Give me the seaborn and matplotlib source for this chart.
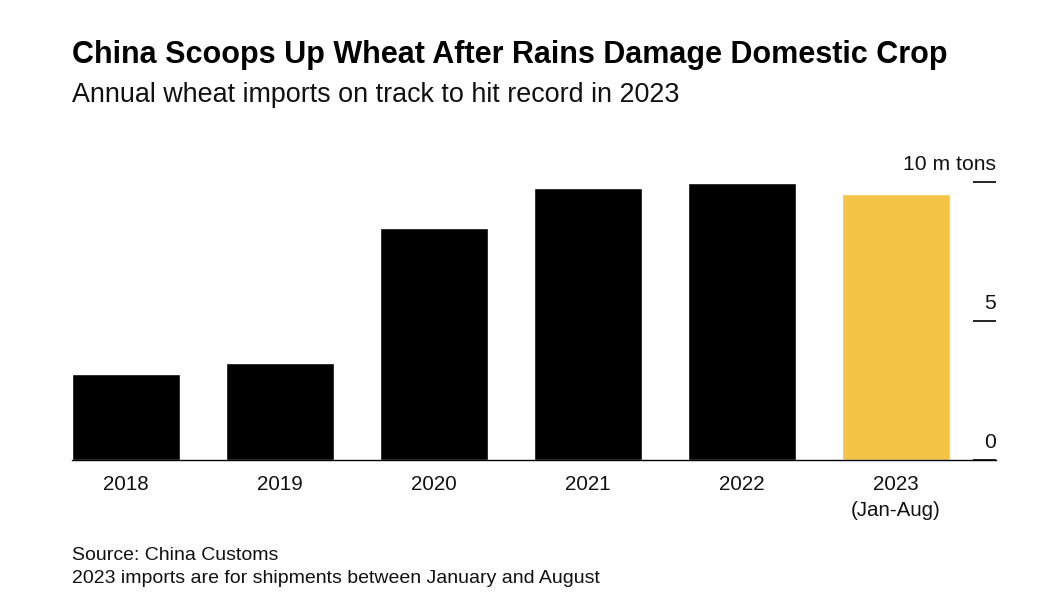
import pandas as pd
import matplotlib
import matplotlib.pyplot as plt
import matplotlib.transforms as mtransforms
import seaborn as sns

# 数据（百万吨）
years = ['2018', '2019', '2020', '2021', '2022', '2023\n(Jan-Aug)']
imports = [3.09, 3.48, 8.35, 9.78, 9.96, 9.57]
bar_colors = ['#000000', '#000000', '#000000', '#000000', '#000000', '#F5C445']
y_ticks = [0, 5, 10]
y_tick_labels = ['0', '5', '10 m tons']

title = 'China Scoops Up Wheat After Rains Damage Domestic Crop'
subtitle = 'Annual wheat imports on track to hit record in 2023'
source = 'Source: China Customs'
note = '2023 imports are for shipments between January and August'

sns.set_theme(style='white')
plt.rcParams['font.family'] = ['Liberation Sans', 'DejaVu Sans']

df = pd.DataFrame({'year': years, 'imports': imports})

fig = plt.figure(figsize=(10.6, 6.1), dpi=100)
ax = fig.add_axes([0.0679, 0.2459, 0.8717, 0.4557])

sns.barplot(data=df, x='year', y='imports', hue='year', palette=bar_colors,
            width=0.7, saturation=1, legend=False, ax=ax)

ax.set_xlim(-0.35, 5.65)
ax.set_ylim(0, 10)
ax.set_xlabel('')
ax.set_ylabel('')

for s in ['top', 'left', 'right']:
    ax.spines[s].set_visible(False)
ax.spines['bottom'].set_color('#000000')
ax.spines['bottom'].set_linewidth(1.0)

ax.tick_params(axis='x', length=0, pad=10.5, labelsize=14.8, labelcolor='#111111')
for lab in ax.get_xticklabels():
    lab.set_linespacing(1.5)
ax.yaxis.tick_right()
ax.set_yticks(y_ticks)
ax.tick_params(axis='y', direction='in', length=16.5, width=1.2, color='#000000',
               labelright=False)

# 右侧刻度标签放在刻度线上方
trans = mtransforms.blended_transform_factory(ax.transAxes, ax.transData)
offset = mtransforms.offset_copy(trans, fig=fig, x=0, y=6, units='points')
for v, lab in zip(y_ticks, y_tick_labels):
    ax.text(1.0, v, lab, transform=offset, ha='right', va='bottom',
            fontsize=15.2, color='#111111', clip_on=False)

fig.text(0.0679, 0.91, title, fontsize=22, fontweight='bold', color='#000000',
         ha='left', va='center')
fig.text(0.0679, 0.845, subtitle, fontsize=19.4, color='#111111',
         ha='left', va='center')
fig.text(0.0679, 0.09, source, fontsize=14, color='#111111',
         ha='left', va='center')
fig.text(0.0679, 0.052, note, fontsize=14, color='#111111',
         ha='left', va='center')

fig.savefig('out.png', dpi=100, facecolor='white')
plt.close(fig)
